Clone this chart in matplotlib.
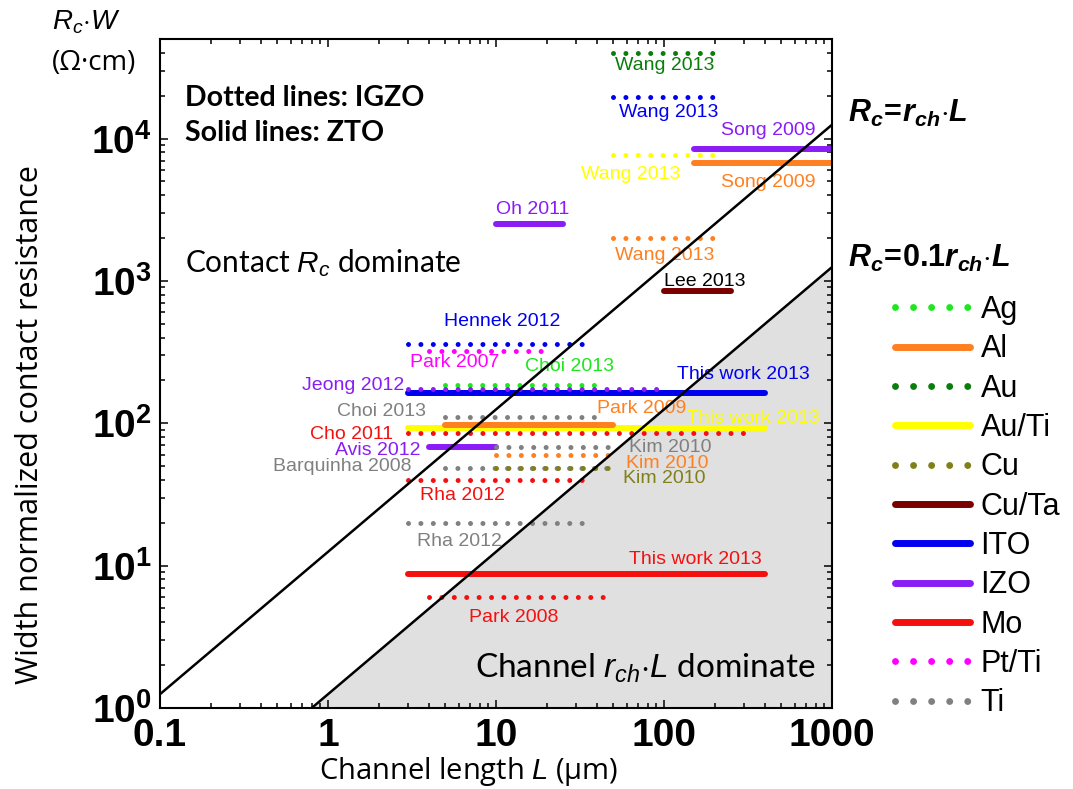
import numpy as np
import matplotlib
matplotlib.use("Agg")
import matplotlib.pyplot as plt
from matplotlib.lines import Line2D
from matplotlib.ticker import FixedLocator, FuncFormatter, LogLocator, NullFormatter

plt.rcParams["mathtext.fontset"] = "custom"
plt.rcParams["mathtext.rm"] = "Liberation Sans"
plt.rcParams["mathtext.it"] = "Liberation Sans:italic"
plt.rcParams["mathtext.bf"] = "Liberation Sans:bold"
plt.rcParams["mathtext.bfit"] = "Liberation Sans:bold:italic"

# ---- contact metals (legend order) ----
metals = ["Ag", "Al", "Au", "Au/Ti", "Cu", "Cu/Ta", "ITO", "IZO", "Mo", "Pt/Ti", "Ti"]
metal_colors = ["#1fe61f", "#ff8020", "#0a7d0a", "#ffff00", "#80801a", "#7a0000",
                "#0000f0", "#8a1cf5", "#f51010", "#ff00ff", "#808080"]
metal_dotted = [True, False, True, False, True, False, False, False, False, True, True]

# ---- reported contact resistance ranges (drawing order) ----
studies = ["Wang 2013", "Wang 2013", "Wang 2013", "Song 2009", "Song 2009",
           "Oh 2011", "Wang 2013", "Lee 2013", "Hennek 2012", "Park 2007",
           "Choi 2013", "This work 2013", "Jeong 2012", "Choi 2013",
           "This work 2013", "Park 2009", "Cho 2011", "Avis 2012", "Kim 2010",
           "Kim 2010", "Barquinha 2008", "Kim 2010", "Rha 2012", "Rha 2012",
           "This work 2013", "Park 2008"]
study_metal = ["Au", "ITO", "Au/Ti", "IZO", "Al",
               "IZO", "Al", "Cu/Ta", "ITO", "Pt/Ti",
               "Ag", "ITO", "IZO", "Ti",
               "Au/Ti", "Al", "Mo", "IZO", "Ti",
               "Al", "Ti", "Cu", "Mo", "Ti",
               "Mo", "Mo"]
# True -> IGZO channel (dotted), False -> ZTO channel (solid)
study_igzo = [True, True, True, False, False,
              False, True, False, True, True,
              True, False, True, True,
              False, False, True, False, True,
              True, True, True, True, True,
              False, True]
length_min = [50, 50, 50, 150, 150,
              10, 50, 100, 3, 4,
              5, 3, 3, 5,
              3, 5, 3, 4, 10,
              10, 5, 10, 3, 3,
              3, 4]
length_max = [200, 200, 200, 1000, 1000,
              25, 200, 250, 35, 20,
              40, 400, 100, 40,
              400, 50, 350, 10, 50,
              50, 50, 50, 35, 35,
              400, 45]
rc_w = [40000, 19500, 7600, 8500, 6700,
        2500, 2000, 850, 363, 324,
        187, 162, 173, 110,
        92, 98, 85, 68, 68,
        60, 48.5, 48.5, 40, 20,
        8.8, 6.0]

# label anchor points (L, Rc*W) for each study tag
label_pos = [(101, 32400), (106, 15200), (63, 5600), (416, 11400), (416, 4920),
             (16.6, 3190), (101, 1500), (175, 984), (10.9, 517), (5.7, 267),
             (27.5, 250), (295, 220), (1.41, 184), (2.09, 121),
             (339, 108), (74, 127), (1.39, 84), (1.99, 64.7), (109, 68),
             (104, 52.5), (1.21, 50), (101, 40.6), (6.28, 30.9), (6.03, 14.7),
             (153, 11.0), (12.8, 4.33)]
label_black = ["Lee 2013"]

# channel sheet resistance times unit length (Ohm*cm per um)
r_ch = 12.5
ratios = [1.0, 0.1]

color_of = dict(zip(metals, metal_colors))

fig = plt.figure(figsize=(10.73, 7.89), dpi=100)
ax = fig.add_axes([160 / 1073, 81 / 789, 672 / 1073, 669 / 789])
ax.set_xscale("log")
ax.set_yscale("log")
ax.set_xlim(0.1, 1000)
ax.set_ylim(1, 5e4)

# shaded region where the channel resistance dominates
L_grid = np.logspace(-2, 3.5, 50)
ax.fill_between(L_grid, 1e-3, ratios[1] * r_ch * L_grid, color="#e0e0e0",
                linewidth=0, zorder=0.5)
for k in ratios:
    ax.plot(L_grid, k * r_ch * L_grid, color="black", lw=1.8, zorder=5)

DOT = dict(linestyle=(0, (0.001, 2.48)), dash_capstyle="round", lw=3.6)
SOLID = dict(linestyle="-", solid_capstyle="round", lw=4.3)

for name, metal, igzo, l0, l1, r, (lx, ly) in zip(
        studies, study_metal, study_igzo, length_min, length_max, rc_w, label_pos):
    c = color_of[metal]
    style = DOT if igzo else SOLID
    ax.plot([l0, l1], [r, r], color=c, zorder=2, **style)
    tc = "black" if name in label_black else c
    ax.text(lx, ly, name, color=tc, fontsize=14, family="Liberation Sans",
            ha="center", va="center", zorder=3)

# ticks
ax.xaxis.set_major_locator(FixedLocator([0.1, 1, 10, 100, 1000]))
ax.xaxis.set_major_formatter(FuncFormatter(lambda v, p: f"{v:g}"))
ax.xaxis.set_minor_locator(LogLocator(base=10, subs=np.arange(2, 10), numticks=20))
ax.xaxis.set_minor_formatter(NullFormatter())
ax.yaxis.set_major_locator(FixedLocator([1, 10, 100, 1000, 10000]))
ax.yaxis.set_major_formatter(
    FuncFormatter(lambda v, p: r"$\mathbf{10^{%d}}$" % int(round(np.log10(v)))))
ax.yaxis.set_minor_locator(LogLocator(base=10, subs=np.arange(2, 10), numticks=20))
ax.yaxis.set_minor_formatter(NullFormatter())
ax.tick_params(which="both", direction="in", top=True, right=True, width=1.1,
               color="black")
ax.tick_params(which="major", length=6)
ax.tick_params(which="minor", length=3.5)
ax.tick_params(axis="x", which="major", pad=7)
ax.tick_params(axis="y", which="major", pad=6)
for lab in ax.get_xticklabels():
    lab.set_fontsize(28)
    lab.set_fontweight("bold")
    lab.set_family("Liberation Sans")
for lab in ax.get_yticklabels():
    lab.set_fontsize(28)
for sp in ax.spines.values():
    sp.set_linewidth(1.5)

# axis titles
fig.text(469 / 1073, 1 - 772 / 789, r"Channel length $L$ (µm)", fontsize=21,
         family="Open Sans", ha="center", va="center")
fig.text(30 / 1073, 1 - 425 / 789, "Width normalized contact resistance",
         fontsize=22, family="Open Sans", rotation=90, ha="center", va="center")
fig.text(52 / 1073, 1 - 22 / 789, r"$R_c{\cdot}W$", fontsize=20, ha="left",
         va="center")
fig.text(52 / 1073, 1 - 63 / 789, "(Ω·cm)", fontsize=20, family="Open Sans",
         ha="left", va="center")

# annotations inside the axes
fig.text(185 / 1073, 1 - 98 / 789, "Dotted lines: IGZO", fontsize=20.5,
         family="Lato", fontweight="bold", ha="left", va="center")
fig.text(185 / 1073, 1 - 133 / 789, "Solid lines: ZTO", fontsize=20.5,
         family="Lato", fontweight="bold", ha="left", va="center")
fig.text(185 / 1073, 1 - 263 / 789, r"Contact $R_c$ dominate", fontsize=21.5,
         family="Lato", ha="left", va="center")
fig.text(815 / 1073, 1 - 668 / 789, r"Channel $r_{ch}{\cdot}L$ dominate",
         fontsize=24, family="Lato", ha="right", va="center", zorder=6)
fig.text(848 / 1073, 1 - 113 / 789,
         r"$\mathbfit{R}_{\mathbfit{c}}\!\mathbf{=}\!\mathbfit{r}_{\mathbfit{ch}}{\mathbf{\cdot}}\mathbfit{L}$",
         fontsize=22, ha="left", va="center")
fig.text(848 / 1073, 1 - 258 / 789,
         r"$\mathbfit{R}_{\mathbfit{c}}\!\mathbf{=}\!\mathbf{0.1}\mathbfit{r}_{\mathbfit{ch}}{\mathbf{\cdot}}\mathbfit{L}$",
         fontsize=22, ha="left", va="center")

# legend of contact metals
handles = []
for m, c, d in zip(metals, metal_colors, metal_dotted):
    if d:
        h = Line2D([], [], color=c, lw=5, linestyle=(0, (0.001, 2.6)),
                   dash_capstyle="round")
    else:
        h = Line2D([], [], color=c, lw=5, solid_capstyle="round")
    handles.append(h)
fig.legend(handles, metals, loc="upper left",
           bbox_to_anchor=(895 / 1073, 1 - 295 / 789), frameon=False,
           prop={"family": "Liberation Sans", "size": 22}, handlelength=2.45,
           handletextpad=0.35, labelspacing=0.305, borderpad=0, borderaxespad=0)

fig.savefig("out.png", dpi=100)
